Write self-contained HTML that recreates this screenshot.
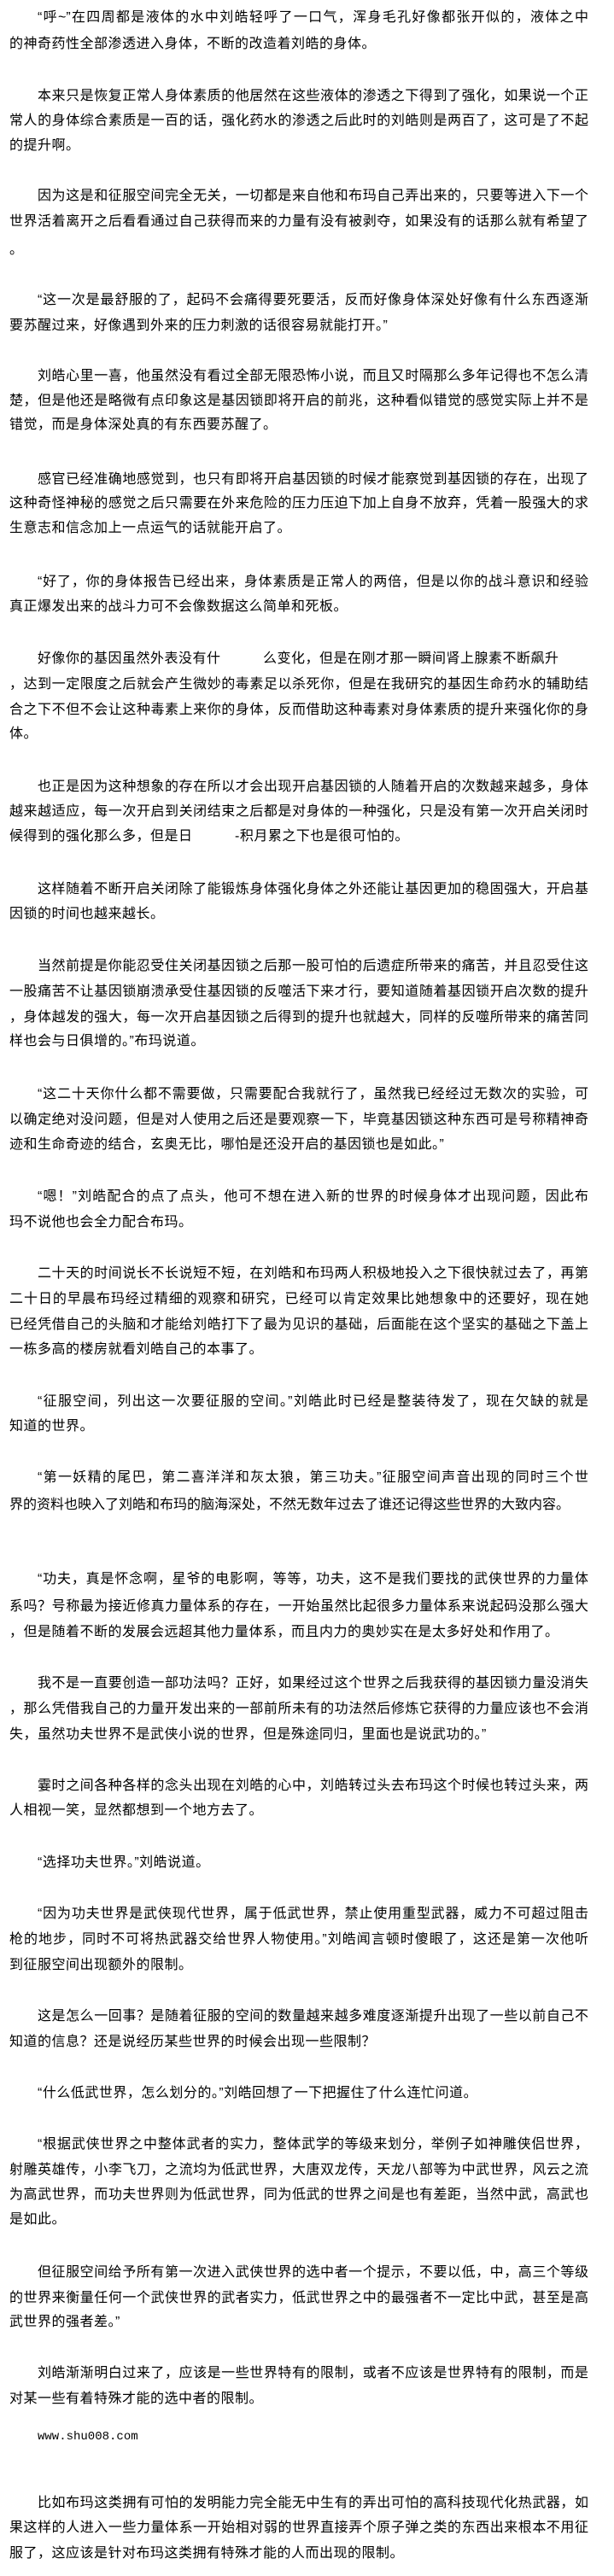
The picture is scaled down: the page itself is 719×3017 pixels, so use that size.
<!DOCTYPE html>
<html><head><meta charset="utf-8">
<style>
html,body{margin:0;padding:0;background:#fff;}
body{width:719px;height:3017px;position:relative;overflow:hidden;font-family:"Liberation Sans","Noto Sans CJK SC",sans-serif;color:#000;}
.t{position:absolute;left:11px;height:28px;line-height:28px;font-size:16px;white-space:nowrap;}
.f{width:678px;text-align:justify;text-align-last:justify;white-space:normal;}
.i{left:44px;}
.f.i{width:645px;}
.l{letter-spacing:0.5px;}
.m{font-family:"Liberation Mono",monospace;font-size:14px;letter-spacing:0;}
</style></head><body>
<div class="t i f" style="top:7px">“呼~”在四周都是液体的水中刘皓轻呼了一口气，浑身毛孔好像都张开似的，液体之中</div>
<div class="t l" style="top:38px">的神奇药性全部渗透进入身体，不断的改造着刘皓的身体。</div>
<div class="t i f" style="top:99px">本来只是恢复正常人身体素质的他居然在这些液体的渗透之下得到了强化，如果说一个正</div>
<div class="t f" style="top:128px">常人的身体综合素质是一百的话，强化药水的渗透之后此时的刘皓则是两百了，这可是了不起</div>
<div class="t l" style="top:157px">的提升啊。</div>
<div class="t i f" style="top:216px">因为这是和征服空间完全无关，一切都是来自他和布玛自己弄出来的，只要等进入下一个</div>
<div class="t f" style="top:246px">世界活着离开之后看看通过自己获得而来的力量有没有被剥夺，如果没有的话那么就有希望了</div>
<div class="t l" style="top:279px">。</div>
<div class="t i f" style="top:338px">“这一次是最舒服的了，起码不会痛得要死要活，反而好像身体深处好像有什么东西逐渐</div>
<div class="t l" style="top:368px">要苏醒过来，好像遇到外来的压力刺激的话很容易就能打开。”</div>
<div class="t i f" style="top:427px">刘皓心里一喜，他虽然没有看过全部无限恐怖小说，而且又时隔那么多年记得也不怎么清</div>
<div class="t f" style="top:456px">楚，但是他还是略微有点印象这是基因锁即将开启的前兆，这种看似错觉的感觉实际上并不是</div>
<div class="t l" style="top:484px">错觉，而是身体深处真的有东西要苏醒了。</div>
<div class="t i f" style="top:548px">感官已经准确地感觉到，也只有即将开启基因锁的时候才能察觉到基因锁的存在，出现了</div>
<div class="t f" style="top:576px">这种奇怪神秘的感觉之后只需要在外来危险的压力压迫下加上自身不放弃，凭着一股强大的求</div>
<div class="t l" style="top:605px">生意志和信念加上一点运气的话就能开启了。</div>
<div class="t i f" style="top:668px">“好了，你的身体报告已经出来，身体素质是正常人的两倍，但是以你的战斗意识和经验</div>
<div class="t l" style="top:697px">真正爆发出来的战斗力可不会像数据这么简单和死板。</div>
<div class="t i l" style="top:758px">好像你的基因虽然外表没有什　　　么变化，但是在刚才那一瞬间肾上腺素不断飙升</div>
<div class="t f" style="top:788px">，达到一定限度之后就会产生微妙的毒素足以杀死你，但是在我研究的基因生命药水的辅助结</div>
<div class="t f" style="top:818px">合之下不但不会让这种毒素上来你的身体，反而借助这种毒素对身体素质的提升来强化你的身</div>
<div class="t l" style="top:846px">体。</div>
<div class="t i f" style="top:908px">也正是因为这种想象的存在所以才会出现开启基因锁的人随着开启的次数越来越多，身体</div>
<div class="t f" style="top:937px">越来越适应，每一次开启到关闭结束之后都是对身体的一种强化，只是没有第一次开启关闭时</div>
<div class="t l" style="top:966px">候得到的强化那么多，但是日　　　-积月累之下也是很可怕的。</div>
<div class="t i f" style="top:1028px">这样随着不断开启关闭除了能锻炼身体强化身体之外还能让基因更加的稳固强大，开启基</div>
<div class="t l" style="top:1057px">因锁的时间也越来越长。</div>
<div class="t i f" style="top:1118px">当然前提是你能忍受住关闭基因锁之后那一股可怕的后遗症所带来的痛苦，并且忍受住这</div>
<div class="t f" style="top:1148px">一股痛苦不让基因锁崩溃承受住基因锁的反噬活下来才行，要知道随着基因锁开启次数的提升</div>
<div class="t f" style="top:1178px">，身体越发的强大，每一次开启基因锁之后得到的提升也就越大，同样的反噬所带来的痛苦同</div>
<div class="t l" style="top:1206px">样也会与日俱增的。”布玛说道。</div>
<div class="t i f" style="top:1268px">“这二十天你什么都不需要做，只需要配合我就行了，虽然我已经经过无数次的实验，可</div>
<div class="t f" style="top:1298px">以确定绝对没问题，但是对人使用之后还是要观察一下，毕竟基因锁这种东西可是号称精神奇</div>
<div class="t l" style="top:1327px">迹和生命奇迹的结合，玄奥无比，哪怕是还没开启的基因锁也是如此。”</div>
<div class="t i f" style="top:1388px">“嗯！”刘皓配合的点了点头，他可不想在进入新的世界的时候身体才出现问题，因此布</div>
<div class="t l" style="top:1418px">玛不说他也会全力配合布玛。</div>
<div class="t i f" style="top:1478px">二十天的时间说长不长说短不短，在刘皓和布玛两人积极地投入之下很快就过去了，再第</div>
<div class="t f" style="top:1508px">二十日的早晨布玛经过精细的观察和研究，已经可以肯定效果比她想象中的还要好，现在她</div>
<div class="t f" style="top:1538px">已经凭借自己的头脑和才能给刘皓打下了最为见识的基础，后面能在这个坚实的基础之下盖上</div>
<div class="t l" style="top:1567px">一栋多高的楼房就看刘皓自己的本事了。</div>
<div class="t i f" style="top:1628px">“征服空间，列出这一次要征服的空间。”刘皓此时已经是整装待发了，现在欠缺的就是</div>
<div class="t l" style="top:1657px">知道的世界。</div>
<div class="t i f" style="top:1717px">“第一妖精的尾巴，第二喜洋洋和灰太狼，第三功夫。”征服空间声音出现的同时三个世</div>
<div class="t" style="top:1749px">界的资料也映入了刘皓和布玛的脑海深处，不然无数年过去了谁还记得这些世界的大致内容。</div>
<div class="t i f" style="top:1836px">“功夫，真是怀念啊，星爷的电影啊，等等，功夫，这不是我们要找的武侠世界的力量体</div>
<div class="t f" style="top:1868px">系吗？号称最为接近修真力量体系的存在，一开始虽然比起很多力量体系来说起码没那么强大</div>
<div class="t l" style="top:1898px">，但是随着不断的发展会远超其他力量体系，而且内力的奥妙实在是太多好处和作用了。</div>
<div class="t i f" style="top:1958px">我不是一直要创造一部功法吗？正好，如果经过这个世界之后我获得的基因锁力量没消失</div>
<div class="t f" style="top:1988px">，那么凭借我自己的力量开发出来的一部前所未有的功法然后修炼它获得的力量应该也不会消</div>
<div class="t l" style="top:2018px">失，虽然功夫世界不是武侠小说的世界，但是殊途同归，里面也是说武功的。”</div>
<div class="t i f" style="top:2078px">霎时之间各种各样的念头出现在刘皓的心中，刘皓转过头去布玛这个时候也转过头来，两</div>
<div class="t l" style="top:2107px">人相视一笑，显然都想到一个地方去了。</div>
<div class="t i l" style="top:2168px">“选择功夫世界。”刘皓说道。</div>
<div class="t i f" style="top:2228px">“因为功夫世界是武侠现代世界，属于低武世界，禁止使用重型武器，威力不可超过阻击</div>
<div class="t f" style="top:2258px">枪的地步，同时不可将热武器交给世界人物使用。”刘皓闻言顿时傻眼了，这还是第一次他听</div>
<div class="t l" style="top:2288px">到征服空间出现额外的限制。</div>
<div class="t i f" style="top:2348px">这是怎么一回事？是随着征服的空间的数量越来越多难度逐渐提升出现了一些以前自己不</div>
<div class="t l" style="top:2378px">知道的信息？还是说经历某些世界的时候会出现一些限制？</div>
<div class="t i l" style="top:2438px">“什么低武世界，怎么划分的。”刘皓回想了一下把握住了什么连忙问道。</div>
<div class="t i f" style="top:2498px">“根据武侠世界之中整体武者的实力，整体武学的等级来划分，举例子如神雕侠侣世界，</div>
<div class="t f" style="top:2528px">射雕英雄传，小李飞刀，之流均为低武世界，大唐双龙传，天龙八部等为中武世界，风云之流</div>
<div class="t f" style="top:2557px">为高武世界，而功夫世界则为低武世界，同为低武的世界之间是也有差距，当然中武，高武也</div>
<div class="t l" style="top:2586px">是如此。</div>
<div class="t i f" style="top:2648px">但征服空间给予所有第一次进入武侠世界的选中者一个提示，不要以低，中，高三个等级</div>
<div class="t f" style="top:2678px">的世界来衡量任何一个武侠世界的武者实力，低武世界之中的最强者不一定比中武，甚至是高</div>
<div class="t l" style="top:2706px">武世界的强者差。”</div>
<div class="t i f" style="top:2766px">刘皓渐渐明白过来了，应该是一些世界特有的限制，或者不应该是世界特有的限制，而是</div>
<div class="t l" style="top:2796px">对某一些有着特殊才能的选中者的限制。</div>
<div class="t i m" style="top:2840px">www.shu008.com</div>
<div class="t i f" style="top:2918px">比如布玛这类拥有可怕的发明能力完全能无中生有的弄出可怕的高科技现代化热武器，如</div>
<div class="t f" style="top:2947px">果这样的人进入一些力量体系一开始相对弱的世界直接弄个原子弹之类的东西出来根本不用征</div>
<div class="t l" style="top:2977px">服了，这应该是针对布玛这类拥有特殊才能的人而出现的限制。</div>
</body></html>
